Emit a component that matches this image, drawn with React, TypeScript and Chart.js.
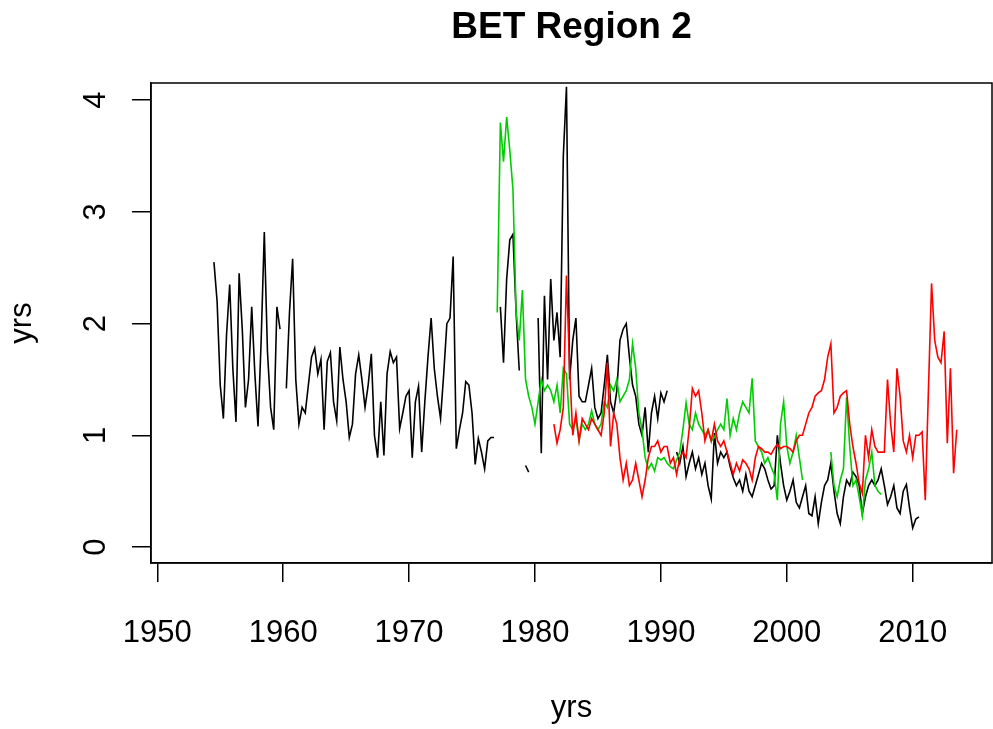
import React, { useEffect, useRef } from "react";
import { Chart, registerables } from "chart.js";

Chart.register(...registerables);

const TITLE = "BET Region 2";
const X_LABEL = "yrs";
const Y_LABEL = "yrs";
const xTicks = [1950, 1960, 1970, 1980, 1990, 2000, 2010];
const yTicks = [0, 1, 2, 3, 4];

// quarterly series, first value at the start year
const blackStart = 1954.5;
const blackValues = [
  2.55, 2.2, 1.45, 1.15, 1.9, 2.35, 1.6, 1.12, 2.45, 1.95, 1.25, 1.5, 2.15, 1.55, 1.08, 1.85, 2.82, 1.75, 1.25, 1.05, 2.15, 1.95,
  null, 1.42, 2.1, 2.58, 1.5, 1.1, 1.25, 1.2, 1.45, 1.7, 1.78, 1.55, 1.68, 1.05, 1.66, 1.74, 1.3, 1.13, 1.79, 1.5,
  1.3, 0.98, 1.1, 1.55, 1.72, 1.5, 1.25, 1.45, 1.73, 1.0, 0.8, 1.3, 0.82, 1.55, 1.75, 1.65, 1.7, 1.06, 1.2, 1.35,
  1.4, 0.8, 1.3, 1.44, 0.85, 1.3, 1.7, 2.05, 1.6, 1.35, 1.15, 1.55, 2.0, 2.05, 2.6, 0.88, 1.05, 1.2, 1.48, 1.45,
  1.2, 0.74, 0.97, 0.85, 0.7, 0.95, 0.98, 0.98, null, 2.15, 1.65, 2.4, 2.75, 2.8, 2.1, 1.58, null, 0.73, 0.67, null,
  null, 2.05, 0.84, 2.25, 1.5, 2.4, 1.85, 2.1, 1.7, 3.5, 4.12, 1.5, 1.85, 2.05, 1.35, 1.3, 1.3, 1.45, 1.6, 1.25,
  1.15, 1.2, 1.45, 1.72, 1.3, 1.2, 1.4, 1.85, 1.95, 2.0, 1.7, 1.45, 1.35, 1.1, 1.0, 1.25, 0.85, 1.2, 1.35, 1.15,
  1.38, 1.3, 1.4, null, null, 0.85, 0.75, 0.9, 0.63, 0.75, 0.85, 0.7, 0.8, 0.65, 0.75, 0.55, 0.43, 1.02, 0.75, 0.85,
  0.8, 0.85, 0.72, 0.62, 0.55, 0.6, 0.5, 0.65, 0.5, 0.45, 0.55, 0.65, 0.75, 0.7, 0.6, 0.52, 0.55, 1.0, 0.75, 0.55,
  0.42, 0.5, 0.6, 0.4, 0.35, 0.45, 0.55, 0.3, 0.28, 0.45, 0.21, 0.4, 0.55, 0.6, 0.75, 0.5, 0.3, 0.21, 0.45, 0.6,
  0.55, 0.67, 0.63, 0.55, 0.3, 0.45, 0.55, 0.6, 0.55, 0.6, 0.7, 0.55, 0.38, 0.45, 0.55, 0.35, 0.3, 0.5, 0.56, 0.35,
  0.17, 0.25, 0.27,
];

const greenStart = 1977.0;
const greenValues = [
  2.1, 3.8, 3.45, 3.85, 3.55, 3.2, 2.1, 1.85, 2.3, 1.5, 1.35, 1.25,
  1.1, 1.3, 1.5, 1.4, 1.45, 1.4, 1.3, 1.45, 1.2, 1.6, 1.55, 1.1, 1.05, 1.15, 0.95, 1.1, 1.05, 1.1, 1.22, 1.1,
  1.05, 1.1, 1.3, 1.25, 1.45, 1.4, 1.5, 1.3, 1.35, 1.4, 1.5, 1.82, 1.6, 1.2, 1.05, 0.8, 0.7, 0.75, 0.68, 0.8,
  0.78, 0.8, 0.75, 0.72, 0.7, 0.78, 0.85, 1.05, 1.29, 1.1, 1.05, 1.2, 1.1, 1.05, 1.0, 1.05, 0.95, 0.98, 1.05, 1.1,
  1.05, 1.33, 1.0, 1.15, 1.05, 1.2, 1.3, 1.25, 1.2, 1.51, 0.95, 0.9, 0.85, 0.75, 0.8, 0.72, 0.65, 0.42, 1.1, 1.3,
  0.9, 0.75, 0.85, 1.0, 0.8, 0.6, null, null, null, null, null, null, null, null, 0.85, 0.55, 0.45, 0.6, 0.7, 1.34,
  0.9, 0.55, 0.6, 0.45, 0.28, 0.6, 0.7, 0.85, 0.55, 0.5, 0.47,
];

const redStart = 1981.5;
const redValues = [
  1.1, 0.93, 1.05, 1.25, 2.43, 1.6, 1.0, 1.2, 0.95, 1.15, 1.1, 1.05, 1.15, 1.1,
  1.05, 1.0, 1.2, 1.65, 0.9, 1.2, 1.1, 0.8, 0.6, 0.75, 0.55, 0.6, 0.75, 0.6, 0.45, 0.6, 0.8, 0.9, 0.9, 0.95,
  0.85, 0.9, 0.9, 0.75, 0.8, 0.65, 0.8, 0.85, 0.8, 1.06, 1.42, 1.35, 1.4, 1.2, 0.95, 1.05, 0.95, 1.1, 0.95, 0.9,
  0.95, 0.85, 0.75, 0.65, 0.75, 0.68, 0.78, 0.75, 0.7, 0.6, 0.8, 0.9, 0.88, 0.85, 0.85, 0.83, 0.88, 0.92, 0.88, 0.9,
  0.9, 0.88, 0.85, 0.95, 1.0, 1.0, 1.1, 1.2, 1.25, 1.35, 1.38, 1.4, 1.5, 1.7, 1.82, 1.2, 1.25, 1.35, 1.38, 1.4,
  1.1, 0.9, 0.75, 0.57, 0.48, 1.0, 0.8, 1.05, 0.9, 0.85, 0.85, 0.85, 1.5, 1.1, 0.85, 1.6, 1.35, 0.95, 0.85, 1.0,
  0.8, 1.0, 1.0, 1.03, 0.42, 1.4, 2.36, 1.85, 1.7, 1.65, 1.93, 0.93, 1.6, 0.66, 1.05,
];

function toPoints(start: number, values: (number | null)[]) {
  return values.map((v, i) => ({ x: start + i * 0.25, y: v }));
}

const FONT = '"Liberation Sans", Arial, Helvetica, sans-serif';

const rPlotPlugin = {
  id: "rPlot",
  afterDraw(chart: any) {
    const { ctx, chartArea: a, scales } = chart;
    ctx.save();
    ctx.strokeStyle = "#000";
    ctx.lineWidth = 1.5;
    ctx.strokeRect(a.left, a.top, a.right - a.left, a.bottom - a.top);
    ctx.fillStyle = "#000";
    ctx.textAlign = "center";
    ctx.textBaseline = "middle";
    const cx = (a.left + a.right) / 2;
    ctx.font = `bold 37px ${FONT}`;
    ctx.fillText(TITLE, cx, 28);
    ctx.font = `31px ${FONT}`;
    xTicks.forEach((t) => {
      ctx.fillText(String(t), scales.x.getPixelForValue(t), 633);
    });
    ctx.fillText(X_LABEL, cx, 708);
    yTicks.forEach((t) => {
      const y = scales.y.getPixelForValue(t);
      ctx.save();
      ctx.translate(96, y);
      ctx.rotate(-Math.PI / 2);
      ctx.fillText(String(t), 0, 0);
      ctx.restore();
    });
    ctx.save();
    ctx.translate(22, (a.top + a.bottom) / 2);
    ctx.rotate(-Math.PI / 2);
    ctx.fillText(Y_LABEL, 0, 0);
    ctx.restore();
    ctx.restore();
  },
};

export default function App() {
  const canvasRef = useRef<HTMLCanvasElement | null>(null);

  useEffect(() => {
    const canvas = canvasRef.current;
    if (!canvas) return;
    const line = (label: string, color: string, data: any[], order: number) => ({
      label,
      data,
      borderColor: color,
      backgroundColor: color,
      borderWidth: 1.6,
      pointRadius: 0,
      tension: 0,
      spanGaps: false,
      fill: false,
      order,
    });
    const chart = new Chart(canvas, {
      type: "line",
      data: {
        datasets: [
          line("black", "#000000", toPoints(blackStart, blackValues), 3),
          line("green", "#00CD00", toPoints(greenStart, greenValues), 2),
          line("red", "#FF0000", toPoints(redStart, redValues), 1),
        ],
      },
      options: {
        responsive: false,
        animation: false,
        devicePixelRatio: 1,
        layout: { padding: { top: 83, right: 1, left: 0, bottom: 0 } },
        plugins: {
          legend: { display: false },
          title: { display: false },
          tooltip: { enabled: false },
        },
        scales: {
          x: {
            type: "linear",
            min: 1949.5,
            max: 2016.3,
            afterBuildTicks: (s: any) => {
              s.ticks = xTicks.map((v) => ({ value: v }));
            },
            afterFit: (s: any) => {
              s.height = 166;
            },
            ticks: { display: false },
            grid: { drawOnChartArea: false, drawTicks: true, tickLength: 19, color: "#000", lineWidth: 1.5 },
            border: { display: true, color: "#000", width: 1.5 },
          },
          y: {
            type: "linear",
            min: -0.143,
            max: 4.154,
            afterBuildTicks: (s: any) => {
              s.ticks = yTicks.map((v) => ({ value: v }));
            },
            afterFit: (s: any) => {
              s.width = 151;
            },
            ticks: { display: false },
            grid: { drawOnChartArea: false, drawTicks: true, tickLength: 19, color: "#000", lineWidth: 1.5 },
            border: { display: true, color: "#000", width: 1.5 },
          },
        },
      },
      plugins: [rPlotPlugin],
    });
    return () => chart.destroy();
  }, []);

  return (
    <div style={{ position: "absolute", left: 0, top: 0, width: 993, height: 729, background: "#fff" }}>
      <canvas ref={canvasRef} width={993} height={729} />
    </div>
  );
}
